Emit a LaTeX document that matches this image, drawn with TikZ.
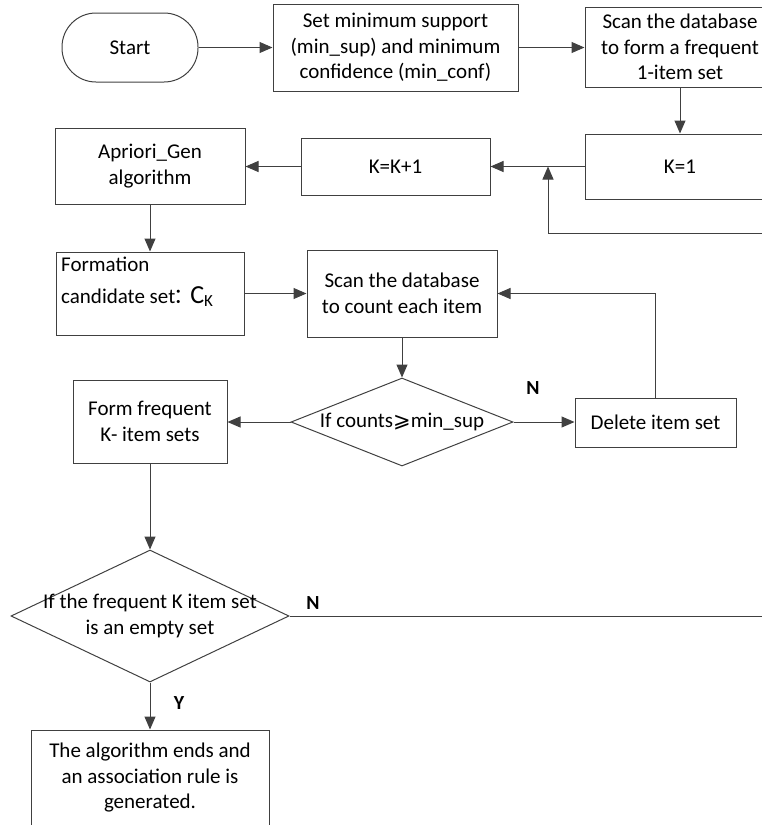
\documentclass[tikz,border=0pt]{standalone}
\usepackage{fontspec}
\setmainfont{Carlito}
\newfontfamily\symfont{DejaVu Sans}
\newfontfamily\cjkfont{Noto Sans CJK SC}
\usetikzlibrary{arrows.meta,shapes.geometric}
\definecolor{linegray}{RGB}{64,64,64}
\begin{document}
\begin{tikzpicture}[x=1pt,y=-1pt,
  every node/.style={font=\fontsize{21}{25.5}\selectfont, text=black},
  box/.style={draw=linegray, line width=1pt, rectangle, inner sep=0pt, align=center},
  dec/.style={draw=linegray, line width=1pt, diamond, inner sep=0pt},
  conn/.style={draw=linegray, line width=1pt, -{Triangle[length=13pt,width=11pt]}},
  lbl/.style={font=\fontsize{20}{24}\selectfont\bfseries}]
\useasboundingbox (0,0) rectangle (762,825);
\clip (0,0) rectangle (762,825);

\node[box, rounded corners=34pt, minimum width=136pt, minimum height=69pt] (start) at (130,47.5) {Start};
\node[box, minimum width=245pt, minimum height=87pt] (set) at (395.5,47.5) {Set minimum support\\(min\_sup) and minimum\\confidence (min\_conf)};
\node[box, minimum width=190pt, minimum height=80pt] (scan1) at (680,47) {Scan the database\\to form a frequent\\1-item set};
\node[box, minimum width=190pt, minimum height=65pt] (k1) at (680,166.5) {K=1};
\node[box, minimum width=189pt, minimum height=57pt] (kk) at (395.5,166.5) {K=K+1};
\node[box, minimum width=190pt, minimum height=76pt] (apr) at (150,166) {Apriori\_Gen\\algorithm};
\node[box, minimum width=188pt, minimum height=83pt] (form) at (150,293.5) {};
\node[anchor=base west, inner sep=0pt] (formtxt1) at (61,271) {Formation};
\node[anchor=base west, inner sep=0pt] (formtxt2) at (61,303) {candidate set\hspace{-2pt}{\cjkfont ：}\hspace{-4pt}{\fontsize{26}{30}\selectfont C}\raisebox{-3pt}{\fontsize{17}{20}\selectfont K}};
\node[box, minimum width=190pt, minimum height=87pt] (scan2) at (402,293.5) {Scan the database\\to count each item};
\node[dec, minimum width=222pt, minimum height=88pt] (d1) at (402,422) {};
\node[inner sep=0pt] (d1txt) at (d1.center) {If counts{\symfont ⩾}min\_sup};
\node[box, minimum width=154pt, minimum height=83pt] (freq) at (150,421.5) {Form frequent\\K- item sets};
\node[box, minimum width=161pt, minimum height=49pt] (del) at (655.5,422.5) {Delete item set};
\node[dec, minimum width=278pt, minimum height=132pt] (d2) at (150,616) {};
\node[inner sep=0pt, align=center] (d2txt) at (d2.center) {If the frequent K item set\\is an empty set};
\node[box, minimum width=238pt, minimum height=96pt] (end) at (150,778) {The algorithm ends and\\an association rule is\\generated.};

\draw[conn] (start) -- (set);
\draw[conn] (set.east) -- (set.east -| scan1.west);
\draw[conn] (scan1) -- (k1);
\draw[conn] (k1) -- (kk);
\draw[conn] (kk.west) -- (kk.west -| apr.east);
\draw[conn] (apr) -- (form);
\draw[conn] (form) -- (scan2);
\draw[conn] (scan2) -- (d1);
\draw[conn] (d1.west) -- (d1.west -| freq.east);
\draw[conn] (d1.east) -- (d1.east -| del.west);
\draw[conn] (del.north) |- (scan2.east);
\draw[conn] (freq) -- (d2);
\draw[conn] (d2) -- (end);
\coordinate (j) at (548,166.5);
\coordinate (r1) at (790,616);
\coordinate (r2) at (790,233);
\draw[conn] (d2.east) -- (r1) -- (r2) -- (r2 -| j) -- (j);

\node[lbl] (n1) at (533,388) {N};
\node[lbl] (n2) at (313,603) {N};
\node[lbl] (y1) at (179,703) {Y};
\end{tikzpicture}
\end{document}
